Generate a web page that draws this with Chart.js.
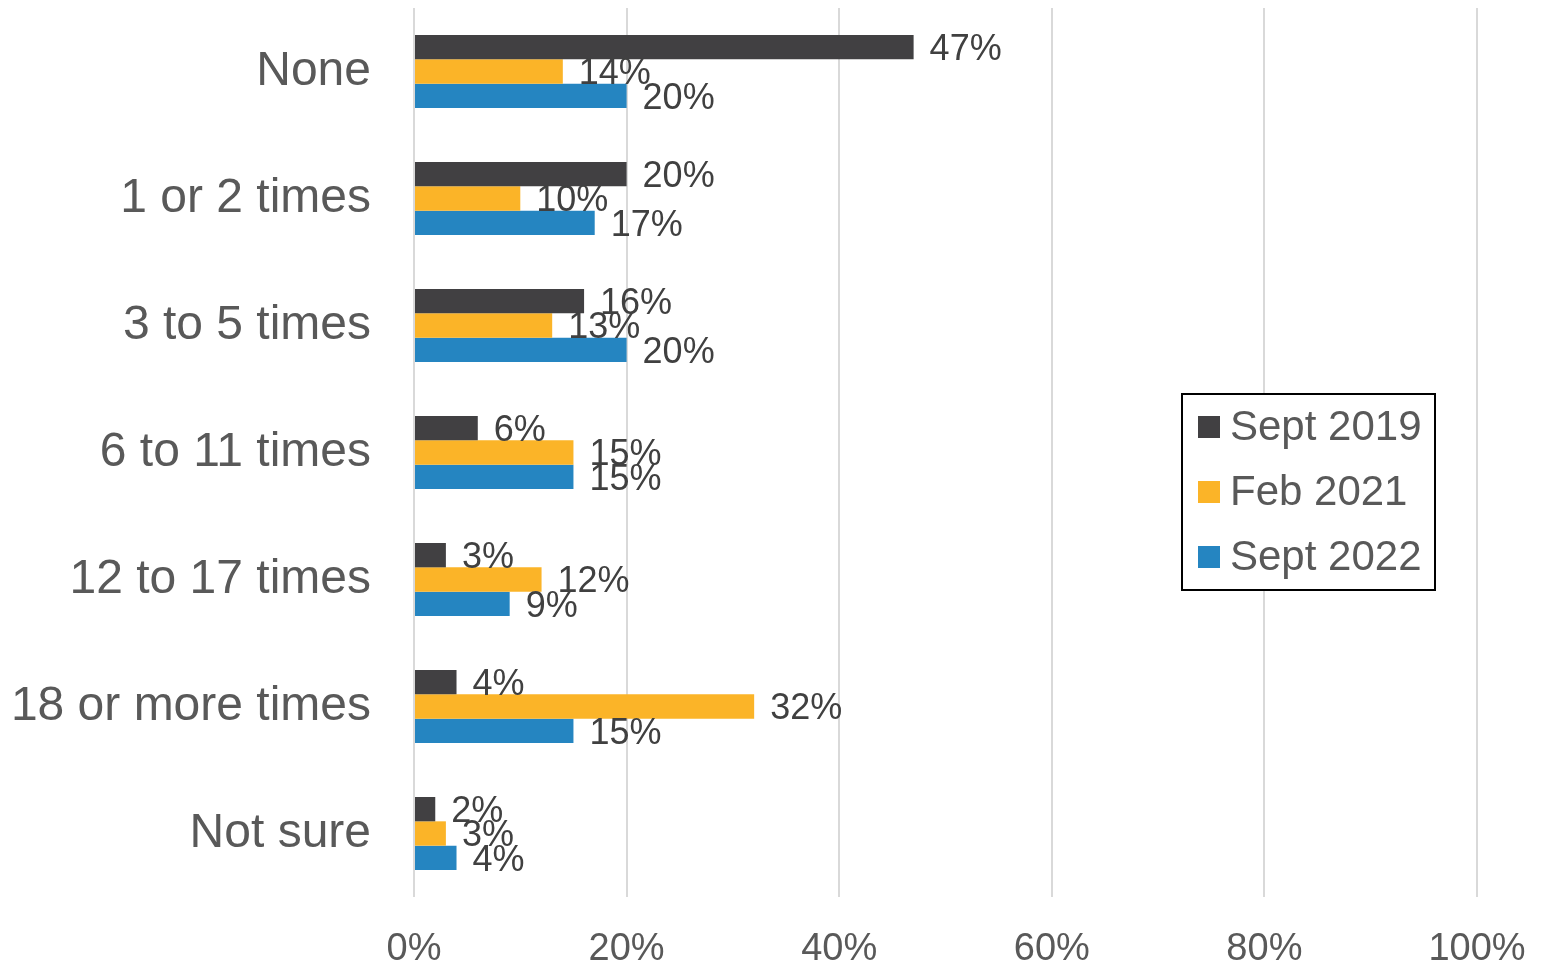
<!DOCTYPE html>
<html>
<head>
<meta charset="utf-8">
<script src="https://cdn.jsdelivr.net/npm/chart.js@4/dist/chart.umd.min.js"></script>
<style>
html,body{margin:0;padding:0;background:#fff;}
#wrap{width:1542px;height:966px;position:relative;}
</style>
</head>
<body>
<div id="wrap"><canvas id="c" width="1542" height="966"></canvas></div>
<script>
const categories = ["None", "1 or 2 times", "3 to 5 times", "6 to 11 times", "12 to 17 times", "18 or more times", "Not sure"];
const seriesNames = ["Sept 2019", "Feb 2021", "Sept 2022"];
const sept2019 = [47, 20, 16, 6, 3, 4, 2];
const feb2021 = [14, 10, 13, 15, 12, 32, 3];
const sept2022 = [20, 17, 20, 15, 9, 15, 4];
const xTicks = [0, 20, 40, 60, 80, 100];
const colors = ["#414042", "#FBB428", "#2585C1"];

const FONT = "'Liberation Sans', Arial, Helvetica, sans-serif";

function zeroPad(scale) {
  scale.paddingTop = 0; scale.paddingBottom = 0;
  scale.paddingLeft = 0; scale.paddingRight = 0;
}

const valueLabels = {
  id: 'valueLabels',
  afterDatasetsDraw(chart) {
    const ctx = chart.ctx;
    ctx.save();
    ctx.font = "36px " + FONT;
    ctx.fillStyle = "#404040";
    ctx.textAlign = "left";
    ctx.textBaseline = "middle";
    chart.data.datasets.forEach((ds, i) => {
      const meta = chart.getDatasetMeta(i);
      meta.data.forEach((bar, j) => {
        ctx.fillText(ds.data[j] + "%", bar.x + 16, bar.y + 3);
      });
    });
    ctx.restore();
  }
};

const boxLegend = {
  id: 'boxLegend',
  afterDraw(chart) {
    const ctx = chart.ctx;
    const x0 = 1182, y0 = 394, w = 253, h = 196;
    ctx.save();
    ctx.fillStyle = "#fff";
    ctx.fillRect(x0, y0, w, h);
    ctx.strokeStyle = "#000";
    ctx.lineWidth = 2;
    ctx.strokeRect(x0, y0, w, h);
    ctx.font = "42px " + FONT;
    ctx.textBaseline = "middle";
    ctx.textAlign = "left";
    chart.data.datasets.forEach((ds, i) => {
      const cy = 427 + i * 65;
      ctx.fillStyle = ds.backgroundColor;
      ctx.fillRect(1198, cy - 11, 22, 22);
      ctx.fillStyle = "#595959";
      ctx.fillText(ds.label, 1230, cy + 1);
    });
    ctx.restore();
  }
};

new Chart(document.getElementById('c'), {
  type: 'bar',
  data: {
    labels: categories,
    datasets: [
      { label: seriesNames[0], data: sept2019, backgroundColor: colors[0] },
      { label: seriesNames[1], data: feb2021, backgroundColor: colors[1] },
      { label: seriesNames[2], data: sept2022, backgroundColor: colors[2] }
    ]
  },
  options: {
    indexAxis: 'y',
    responsive: false,
    animation: false,
    devicePixelRatio: 1,
    layout: { padding: { left: 0, right: 65, top: 8, bottom: 0 } },
    datasets: { bar: { categoryPercentage: 0.575, barPercentage: 1.0 } },
    plugins: {
      legend: { display: false },
      tooltip: { enabled: false }
    },
    scales: {
      x: {
        min: 0, max: 100,
        afterBuildTicks(scale) { scale.ticks = xTicks.map(v => ({ value: v })); },
        afterFit(scale) { scale.height = 69; zeroPad(scale); },
        ticks: {
          callback: v => v + "%",
          color: "#595959",
          font: { family: FONT, size: 38 },
          padding: 30,
          maxRotation: 0
        },
        grid: { color: "#d9d9d9", lineWidth: 2, drawTicks: false },
        border: { display: false }
      },
      y: {
        afterFit(scale) { scale.width = 414; zeroPad(scale); },
        ticks: {
          color: "#595959",
          font: { family: FONT, size: 48 },
          padding: 43
        },
        grid: { display: false, drawTicks: false },
        border: { display: false }
      }
    }
  },
  plugins: [valueLabels, boxLegend]
});
</script>
</body>
</html>
